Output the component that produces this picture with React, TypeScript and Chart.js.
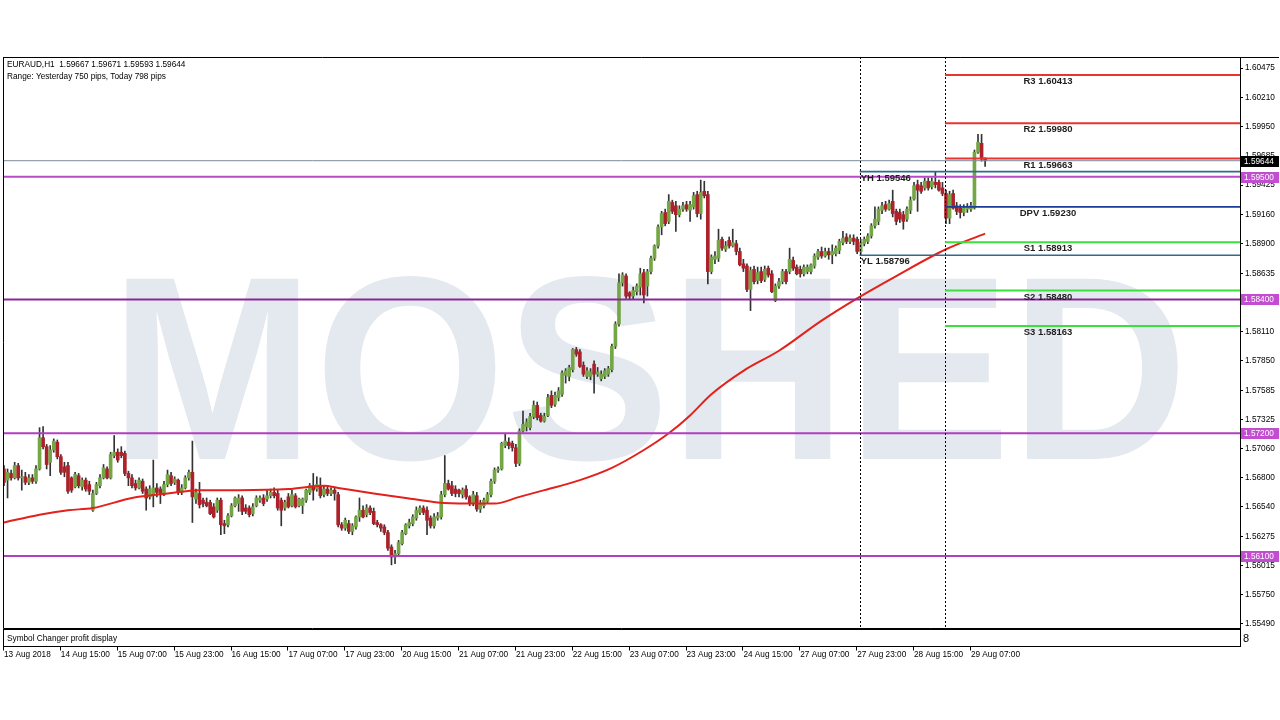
import React, { useEffect, useRef } from "react";
import { Chart, registerables } from "chart.js";
Chart.register(...registerables);

// ---------- data (EURAUD H1, bar 0 = 13 Aug 23:00 ... bar 276 = 29 Aug 11:00) ----------
const OPEN = [
  1.5688,1.5678,1.5684,1.5680,1.5691,1.5680,1.5681,1.5676,1.5680,1.5677,
  1.5688,1.5716,1.5708,1.5694,1.5705,1.5712,1.5699,1.5690,1.5691,1.5680,
  1.5672,1.5682,1.5672,1.5678,1.5674,1.5651,1.5666,1.5673,1.5680,1.5688,
  1.5680,1.5700,1.5703,1.5703,1.5702,1.5684,1.5680,1.5675,1.5671,1.5677,
  1.5670,1.5663,1.5665,1.5671,1.5670,1.5665,1.5674,1.5682,1.5676,1.5678,
  1.5667,1.5671,1.5680,1.5685,1.5661,1.5666,1.5660,1.5658,1.5658,1.5654,
  1.5651,1.5660,1.5639,1.5638,1.5646,1.5655,1.5657,1.5662,1.5653,1.5653,
  1.5648,1.5655,1.5660,1.5662,1.5661,1.5664,1.5667,1.5666,1.5660,1.5653,
  1.5663,1.5655,1.5664,1.5655,1.5655,1.5660,1.5667,1.5673,1.5670,1.5673,
  1.5665,1.5670,1.5666,1.5669,1.5665,1.5638,1.5635,1.5639,1.5632,1.5636,
  1.5645,1.5651,1.5647,1.5653,1.5650,1.5640,1.5638,1.5636,1.5631,1.5618,
  1.5609,1.5612,1.5621,1.5630,1.5637,1.5639,1.5644,1.5649,1.5653,1.5651,
  1.5644,1.5637,1.5644,1.5645,1.5665,1.5675,1.5673,1.5670,1.5669,1.5665,
  1.5670,1.5663,1.5657,1.5664,1.5652,1.5655,1.5659,1.5665,1.5677,1.5687,
  1.5688,1.5709,1.5712,1.5711,1.5707,1.5693,1.5722,1.5726,1.5725,1.5735,
  1.5745,1.5736,1.5731,1.5736,1.5754,1.5746,1.5752,1.5755,1.5772,1.5771,
  1.5777,1.5795,1.5793,1.5781,1.5771,1.5771,1.5782,1.5773,1.5769,1.5771,
  1.5773,1.5777,1.5798,1.5818,1.5855,1.5861,1.5846,1.5843,1.5847,1.5851,
  1.5864,1.5852,1.5865,1.5877,1.5888,1.5905,1.5918,1.5910,1.5927,1.5924,
  1.5916,1.5921,1.5925,1.5920,1.5923,1.5934,1.5917,1.5937,1.5934,1.5865,
  1.5876,1.5877,1.5894,1.5885,1.5893,1.5888,1.5890,1.5883,1.5872,1.5870,
  1.5849,1.5867,1.5857,1.5865,1.5858,1.5868,1.5863,1.5839,1.5852,1.5856,
  1.5865,1.5865,1.5875,1.5869,1.5867,1.5863,1.5865,1.5865,1.5870,1.5878,
  1.5883,1.5879,1.5883,1.5880,1.5881,1.5884,1.5891,1.5896,1.5892,1.5895,
  1.5894,1.5883,1.5890,1.5892,1.5897,1.5906,1.5910,1.5920,1.5925,1.5921,
  1.5928,1.5919,1.5918,1.5916,1.5912,1.5920,1.5930,1.5943,1.5942,1.5940,
  1.5946,1.5941,1.5945,1.5945,1.5940,1.5935,1.5913,1.5935,1.5924,1.5922,
  1.5918,1.5921,1.5921,1.5922,1.5972,1.5980,1.59667,
];
const HIGH = [
  1.5691,1.5688,1.5687,1.5694,1.5693,1.5687,1.5685,1.5683,1.5683,1.5691,
  1.5725,1.5726,1.5710,1.5709,1.5715,1.5714,1.5701,1.5694,1.5694,1.5681,
  1.5685,1.5684,1.5680,1.5680,1.5677,1.5669,1.5676,1.5683,1.5692,1.5690,
  1.5703,1.5718,1.5706,1.5708,1.5704,1.5686,1.5683,1.5678,1.5680,1.5679,
  1.5672,1.5673,1.5696,1.5675,1.5672,1.5677,1.5687,1.5685,1.5681,1.5679,
  1.5674,1.5682,1.5687,1.5713,1.5670,1.5676,1.5662,1.5662,1.5660,1.5657,
  1.5662,1.5662,1.5642,1.5648,1.5657,1.5663,1.5665,1.5664,1.5656,1.5655,
  1.5657,1.5664,1.5664,1.5665,1.5669,1.5670,1.5671,1.5669,1.5662,1.5660,
  1.5666,1.5669,1.5666,1.5662,1.5662,1.5670,1.5675,1.5684,1.5681,1.5680,
  1.5673,1.5672,1.5671,1.5671,1.5667,1.5640,1.5644,1.5642,1.5639,1.5646,
  1.5662,1.5655,1.5656,1.5655,1.5653,1.5642,1.5639,1.5638,1.5633,1.5620,
  1.5615,1.5624,1.5633,1.5639,1.5643,1.5647,1.5654,1.5655,1.5655,1.5654,
  1.5646,1.5648,1.5649,1.5668,1.5700,1.5678,1.5677,1.5673,1.5670,1.5671,
  1.5673,1.5664,1.5668,1.5667,1.5660,1.5662,1.5667,1.5679,1.5689,1.5690,
  1.5712,1.5720,1.5716,1.5713,1.5710,1.5724,1.5740,1.5733,1.5738,1.5749,
  1.5748,1.5738,1.5738,1.5755,1.5758,1.5757,1.5761,1.5776,1.5778,1.5781,
  1.5796,1.5797,1.5795,1.5784,1.5779,1.5778,1.5785,1.5779,1.5776,1.5778,
  1.5780,1.5800,1.5820,1.5863,1.5864,1.5863,1.5847,1.5851,1.5854,1.5868,
  1.5867,1.5867,1.5879,1.5889,1.5907,1.5919,1.5921,1.5934,1.5929,1.5928,
  1.5924,1.5927,1.5928,1.5928,1.5936,1.5937,1.5947,1.5946,1.5937,1.5880,
  1.5883,1.5903,1.5896,1.5892,1.5896,1.5903,1.5893,1.5886,1.5876,1.5872,
  1.5869,1.5870,1.5869,1.5869,1.5870,1.5870,1.5866,1.5854,1.5859,1.5867,
  1.5867,1.5886,1.5878,1.5871,1.5870,1.5871,1.5871,1.5872,1.5881,1.5885,
  1.5887,1.5886,1.5886,1.5889,1.5888,1.5894,1.5901,1.5899,1.5898,1.5898,
  1.5896,1.5894,1.5896,1.5899,1.5908,1.5923,1.5923,1.5927,1.5928,1.5929,
  1.5938,1.5921,1.5921,1.5919,1.5923,1.5932,1.5945,1.5947,1.5945,1.5949,
  1.5949,1.5949,1.59546,1.5947,1.5945,1.5938,1.5937,1.5938,1.5927,1.5925,
  1.5925,1.5926,1.5927,1.5974,1.5988,1.5988,1.59671,
];
const LOW = [
  1.5673,1.5662,1.5678,1.5679,1.5678,1.5669,1.5674,1.5674,1.5675,1.5675,
  1.5687,1.5706,1.5688,1.5682,1.5703,1.5697,1.5683,1.5681,1.5666,1.5667,
  1.5671,1.5671,1.5669,1.5668,1.5665,1.5650,1.5665,1.5671,1.5679,1.5679,
  1.5679,1.5698,1.5694,1.5698,1.5682,1.5673,1.5671,1.5669,1.5670,1.5666,
  1.5651,1.5661,1.5654,1.5663,1.5657,1.5664,1.5672,1.5673,1.5674,1.5665,
  1.5665,1.5670,1.5678,1.5640,1.5657,1.5653,1.5654,1.5654,1.5647,1.5644,
  1.5649,1.5629,1.5630,1.5636,1.5645,1.5654,1.5650,1.5647,1.5648,1.5645,
  1.5646,1.5654,1.5658,1.5655,1.5659,1.5662,1.5662,1.5651,1.5637,1.5651,
  1.5653,1.5654,1.5653,1.5654,1.5648,1.5658,1.5665,1.5660,1.5668,1.5662,
  1.5663,1.5664,1.5664,1.5660,1.5636,1.5633,1.5633,1.5630,1.5629,1.5634,
  1.5641,1.5644,1.5645,1.5647,1.5638,1.5636,1.5632,1.5629,1.5615,1.5602,
  1.5603,1.5611,1.5620,1.5629,1.5635,1.5637,1.5642,1.5647,1.5647,1.5629,
  1.5635,1.5635,1.5642,1.5643,1.5663,1.5669,1.5664,1.5663,1.5663,1.5662,
  1.5661,1.5655,1.5655,1.5650,1.5649,1.5653,1.5657,1.5663,1.5675,1.5685,
  1.5687,1.5707,1.5706,1.5704,1.5690,1.5691,1.5721,1.5722,1.5723,1.5733,
  1.5732,1.5730,1.5730,1.5735,1.5743,1.5744,1.5749,1.5753,1.5765,1.5767,
  1.5775,1.5789,1.5779,1.5771,1.5769,1.5768,1.5756,1.5771,1.5767,1.5769,
  1.5771,1.5775,1.5796,1.5816,1.5852,1.5841,1.5840,1.5840,1.5844,1.5844,
  1.5837,1.5843,1.5863,1.5875,1.5886,1.5898,1.5906,1.5908,1.5917,1.5901,
  1.5914,1.5919,1.5919,1.5910,1.5921,1.5914,1.5912,1.5931,1.5854,1.5863,
  1.5872,1.5874,1.5884,1.5883,1.5886,1.5887,1.5880,1.5870,1.5865,1.5847,
  1.5830,1.5854,1.5854,1.5855,1.5856,1.5860,1.5846,1.5838,1.5850,1.5854,
  1.5854,1.5863,1.5866,1.5862,1.5860,1.5861,1.5863,1.5863,1.5868,1.5876,
  1.5877,1.5878,1.5876,1.5872,1.5879,1.5881,1.5889,1.5890,1.5890,1.5889,
  1.5881,1.58796,1.5888,1.5890,1.5895,1.5904,1.5907,1.5917,1.5919,1.5920,
  1.5914,1.5907,1.5909,1.5903,1.5910,1.5917,1.5929,1.5919,1.5935,1.5938,
  1.5938,1.5939,1.5940,1.5937,1.5933,1.5908,1.5908,1.5921,1.5916,1.5913,
  1.5915,1.5918,1.5919,1.5921,1.5971,1.5964,1.59593,
];
const CLOSE = [
  1.5676,1.5685,1.5680,1.5691,1.5680,1.5681,1.5676,1.5680,1.5677,1.5688,
  1.5716,1.5708,1.5692,1.5705,1.5713,1.5699,1.5685,1.5685,1.5668,1.5669,
  1.5683,1.5673,1.5678,1.5670,1.5668,1.5666,1.5674,1.5680,1.5689,1.5680,
  1.5701,1.5703,1.5696,1.5700,1.5684,1.5680,1.5673,1.5671,1.5678,1.5668,
  1.5662,1.5670,1.5671,1.5667,1.5665,1.5674,1.5683,1.5675,1.5679,1.5667,
  1.5671,1.5680,1.5685,1.5663,1.5667,1.5656,1.5657,1.5655,1.5648,1.5645,
  1.5660,1.5638,1.5637,1.5646,1.5655,1.5662,1.5662,1.5650,1.5650,1.5647,
  1.5654,1.5662,1.5662,1.5657,1.5664,1.5667,1.5664,1.5653,1.5651,1.5658,
  1.5654,1.5665,1.5654,1.5661,1.5661,1.5669,1.5673,1.5669,1.5674,1.5664,
  1.5670,1.5666,1.5669,1.5666,1.5638,1.5635,1.5642,1.5632,1.5637,1.5645,
  1.5651,1.5645,1.5653,1.5649,1.5639,1.5638,1.5635,1.5631,1.5617,1.5609,
  1.5612,1.5622,1.5631,1.5638,1.5640,1.5645,1.5651,1.5653,1.5649,1.5642,
  1.5637,1.5645,1.5646,1.5665,1.5675,1.5670,1.5666,1.5666,1.5666,1.5669,
  1.5663,1.5657,1.5665,1.5652,1.5656,1.5660,1.5665,1.5677,1.5687,1.5688,
  1.5711,1.5713,1.5709,1.5707,1.5693,1.5722,1.5728,1.5730,1.5735,1.5745,
  1.5734,1.5731,1.5735,1.5752,1.5745,1.5754,1.5758,1.5774,1.5776,1.5779,
  1.5795,1.5791,1.5780,1.5773,1.5776,1.5775,1.5773,1.5775,1.5773,1.5776,
  1.5778,1.5798,1.5818,1.5855,1.5862,1.5843,1.5843,1.5848,1.5852,1.5863,
  1.5844,1.5865,1.5877,1.5888,1.5905,1.5917,1.5908,1.5928,1.5919,1.5916,
  1.5921,1.5924,1.5921,1.5925,1.5933,1.5917,1.5936,1.5933,1.5865,1.5878,
  1.5879,1.5893,1.5886,1.5888,1.5888,1.5891,1.5883,1.5871,1.5868,1.5849,
  1.5866,1.5856,1.5864,1.5857,1.5867,1.5862,1.5847,1.5852,1.5856,1.5865,
  1.5856,1.5876,1.5868,1.5863,1.5863,1.5869,1.5869,1.5871,1.5879,1.5883,
  1.5879,1.5883,1.5880,1.5883,1.5886,1.5892,1.5895,1.5892,1.5895,1.5892,
  1.5883,1.5891,1.5894,1.5897,1.5906,1.5912,1.5921,1.5924,1.5921,1.5926,
  1.5917,1.5910,1.5912,1.5910,1.5921,1.5929,1.5942,1.5938,1.5937,1.5946,
  1.5940,1.5946,1.5943,1.5938,1.5935,1.5913,1.5934,1.5922,1.5919,1.5918,
  1.5922,1.5923,1.5924,1.5972,1.5981,1.5966,1.59644,
];

// moving average (red line), read at selected bars
const MA_INDEX = [0,10,18,25,36,46,55,66,80,90,94,104,113,122,130,138,145,152,162,171,180,187,193,199,208,218,230,240,251,265,276];
const MA_VALUE = [1.5640,1.5647,1.5651,1.5653,1.5662,1.5666,1.5669,1.5669,1.5670,1.5673,1.5671,1.5666,1.5662,1.5658,1.5657,1.5657,1.5663,1.5669,1.5678,1.5689,1.5705,1.5720,1.5736,1.5755,1.5776,1.5794,1.5821,1.5841,1.5861,1.5885,1.5899];

const TIME_TICK_INDEX = [0,16,32,48,64,80,96,112,128,144,160,176,192,208,224,240,256,272];
const TIME_LABELS = ["13 Aug 2018","14 Aug 15:00","15 Aug 07:00","15 Aug 23:00","16 Aug 15:00","17 Aug 07:00","17 Aug 23:00","20 Aug 15:00","21 Aug 07:00","21 Aug 23:00","22 Aug 15:00","23 Aug 07:00","23 Aug 23:00","24 Aug 15:00","27 Aug 07:00","27 Aug 23:00","28 Aug 15:00","29 Aug 07:00"];
const PRICE_TICKS = [1.60475,1.6021,1.5995,1.59685,1.59425,1.5916,1.589,1.58635,1.58375,1.5811,1.5785,1.57585,1.57325,1.5706,1.568,1.5654,1.56275,1.56015,1.5575,1.5549];

const SR_LEVELS = [1.595, 1.584, 1.572, 1.561];
const PIVOT_NAMES = ["R3","R2","R1","DPV","S1","S2","S3"];
const PIVOT_VALUES = [1.60413,1.5998,1.59663,1.5923,1.58913,1.5848,1.58163];
const YESTERDAY_NAMES = ["YH","YL"];
const YESTERDAY_VALUES = [1.59546,1.58796];
const LAST_PRICE = 1.59644;
const DAY_START_INDEX = [241, 265];
const HEADER_LINES = ["EURAUD,H1  1.59667 1.59671 1.59593 1.59644", "Range: Yesterday 750 pips, Today 798 pips"];
const SUBWINDOW_TITLE = "Symbol Changer profit display";
const WATERMARK = "MOSHED";

// ---------- styling ----------
const FONT = '"Liberation Sans", Arial, sans-serif';
const BULL = "#74a646";
const BEAR = "#ad222a";
const WICK = "#333333";
const SR_COLORS = ["#b94bc9", "#8a2899", "#b03fc1", "#b03fc1"];
const PIVOT_COLORS = ["#e8342e","#e8342e","#e8342e","#1d3b98","#3ce03c","#3ce03c","#3ce03c"];
const BOX_MAGENTA = "#c24dd0";

const overlay = {
  id: "mt4overlay",
  beforeDatasetsDraw(chart: any) {
    const { ctx, chartArea: a } = chart;
    ctx.save();
    ctx.beginPath();
    ctx.rect(a.left, a.top, a.right - a.left, a.bottom - a.top);
    ctx.clip();
    ctx.fillStyle = "#e4e8ef";
    ctx.font = `700 262px ${FONT}`;
    ctx.textAlign = "left";
    ctx.textBaseline = "alphabetic";
    ctx.fillText(WATERMARK, 110, 459, 1078);
    ctx.restore();
  },
  afterDatasetsDraw(chart: any) {
    const { ctx, chartArea: a, scales } = chart;
    const xs = scales.x, ys = scales.y;
    ctx.save();
    ctx.beginPath();
    ctx.rect(a.left, a.top, a.right - a.left, a.bottom - a.top);
    ctx.clip();
    const hline = (v: number, x0: number, color: string, w: number) => {
      const y = ys.getPixelForValue(v);
      ctx.strokeStyle = color;
      ctx.lineWidth = w;
      ctx.beginPath();
      ctx.moveTo(x0, y);
      ctx.lineTo(a.right, y);
      ctx.stroke();
    };
    // last price line
    hline(LAST_PRICE, a.left, "#7d8b9a", 1);
    // support / resistance lines
    SR_LEVELS.forEach((v, i) => hline(v, a.left, SR_COLORS[i], 2));
    // day separators
    ctx.strokeStyle = "#000";
    ctx.lineWidth = 1;
    ctx.setLineDash([2, 2]);
    DAY_START_INDEX.forEach((d) => {
      const x = Math.round(xs.getPixelForValue(d) - 1) + 0.5;
      ctx.beginPath();
      ctx.moveTo(x, a.top);
      ctx.lineTo(x, a.bottom);
      ctx.stroke();
    });
    ctx.setLineDash([]);
    // yesterday high / low
    const xY = xs.getPixelForValue(DAY_START_INDEX[0]) - 1;
    YESTERDAY_VALUES.forEach((v) => hline(v, xY, "#2e6b8c", 1.6));
    // pivots
    const xP = xs.getPixelForValue(DAY_START_INDEX[1]) - 1;
    PIVOT_VALUES.forEach((v, i) => hline(v, xP, PIVOT_COLORS[i], i === 3 ? 1.6 : 2));
    // labels
    ctx.fillStyle = "#1e1e1e";
    ctx.font = `700 9.5px ${FONT}`;
    ctx.textBaseline = "middle";
    ctx.textAlign = "center";
    PIVOT_VALUES.forEach((v, i) => {
      ctx.fillText(`${PIVOT_NAMES[i]} ${v.toFixed(5)}`, 1048, ys.getPixelForValue(v) + 6.5);
    });
    ctx.textAlign = "left";
    YESTERDAY_VALUES.forEach((v, i) => {
      ctx.fillText(`${YESTERDAY_NAMES[i]} ${v.toFixed(5)}`, xY + 1, ys.getPixelForValue(v) + 6.5);
    });
    ctx.restore();
  },
  afterDraw(chart: any) {
    const { ctx, chartArea: a, scales } = chart;
    const xs = scales.x, ys = scales.y;
    ctx.save();
    ctx.strokeStyle = "#000";
    ctx.lineWidth = 1;
    // frames
    ctx.beginPath();
    ctx.moveTo(a.left + 0.5, a.top + 0.5);
    ctx.lineTo(1279, a.top + 0.5);
    ctx.moveTo(a.left + 0.5, a.top);
    ctx.lineTo(a.left + 0.5, a.bottom + 0.5);
    ctx.lineTo(a.right, a.bottom + 0.5);
    ctx.stroke();
    const subTop = a.bottom + 1.5, subBot = a.bottom + 18.5;
    ctx.strokeRect(a.left + 0.5, subTop, a.right - a.left, subBot - subTop);
    // x tick marks
    ctx.beginPath();
    TIME_TICK_INDEX.forEach((t) => {
      const x = Math.round(xs.getPixelForValue(t) - 1) + 0.5;
      ctx.moveTo(x, subBot);
      ctx.lineTo(x, subBot + 4);
    });
    ctx.stroke();
    // texts
    ctx.fillStyle = "#000";
    ctx.font = `8.25px ${FONT}`;
    ctx.textAlign = "left";
    ctx.textBaseline = "middle";
    ctx.fillText(HEADER_LINES[0], 7, 64.5);
    ctx.fillText(HEADER_LINES[1], 7, 76.5);
    ctx.fillText(SUBWINDOW_TITLE, 7, (subTop + subBot) / 2 + 0.5);
    ctx.font = `11px ${FONT}`;
    ctx.fillText("8", a.right + 3, (subTop + subBot) / 2 + 0.5);
    // price boxes on axis
    const boxes = [LAST_PRICE, ...SR_LEVELS];
    ctx.font = `8.25px ${FONT}`;
    boxes.forEach((v, i) => {
      const y = ys.getPixelForValue(v);
      ctx.fillStyle = i === 0 ? "#000" : BOX_MAGENTA;
      ctx.fillRect(a.right + 1, Math.round(y) - 5, 38, 11);
      ctx.fillStyle = "#fff";
      ctx.fillText(v.toFixed(5), a.right + 4, Math.round(y) + 0.5);
    });
    ctx.restore();
  },
};

export default function App() {
  const ref = useRef<HTMLCanvasElement | null>(null);
  useEffect(() => {
    if (!ref.current) return;
    const bodies = OPEN.map((o, i) => ({ x: i, y: [o, CLOSE[i]] }));
    const wicks = LOW.map((l, i) => ({ x: i, y: [l, HIGH[i]] }));
    const bodyColors = OPEN.map((o, i) => (CLOSE[i] >= o ? BULL : BEAR));
    const ma = MA_INDEX.map((x, i) => ({ x, y: MA_VALUE[i] }));
    const chart = new Chart(ref.current, {
      type: "bar",
      data: {
        datasets: [
          {
            type: "line",
            data: ma,
            borderColor: "#e3211b",
            borderWidth: 2,
            pointRadius: 0,
            cubicInterpolationMode: "monotone",
            order: 0,
          } as any,
          {
            data: bodies,
            backgroundColor: bodyColors,
            barThickness: 3,
            minBarLength: 1,
            grouped: false,
            order: 1,
          } as any,
          {
            data: wicks,
            backgroundColor: WICK,
            barThickness: 1,
            grouped: false,
            order: 2,
          } as any,
        ],
      },
      options: {
        responsive: false,
        animation: false,
        devicePixelRatio: 1,
        layout: { padding: { left: 3, top: 57, right: 0, bottom: 0 }, autoPadding: false },
        plugins: { legend: { display: false }, tooltip: { enabled: false } },
        scales: {
          x: {
            type: "linear",
            min: -0.28,
            max: 347.7,
            offset: false,
            grid: { display: false, drawTicks: true, tickLength: 22 },
            border: { display: false },
            afterBuildTicks: (s: any) => {
              s.ticks = TIME_TICK_INDEX.map((v) => ({ value: v }));
            },
            afterFit: (s: any) => {
              s.height = 92;
              s.paddingLeft = 0;
              s.paddingRight = 0;
            },
            ticks: {
              autoSkip: false,
              maxRotation: 0,
              minRotation: 0,
              align: "start",
              padding: 0,
              color: "#000",
              font: { family: FONT, size: 8.25 },
              callback: (v: any) => TIME_LABELS[TIME_TICK_INDEX.indexOf(v)] ?? "",
            },
          },
          y: {
            type: "linear",
            position: "right",
            min: 1.55454,
            max: 1.60574,
            grid: { display: true, drawOnChartArea: false, drawTicks: true, tickLength: 3, color: "#000" },
            border: { display: true, color: "#000" },
            afterBuildTicks: (s: any) => {
              s.ticks = PRICE_TICKS.map((v) => ({ value: v }));
            },
            afterFit: (s: any) => {
              s.width = 40;
            },
            ticks: {
              autoSkip: false,
              padding: 2,
              color: "#000",
              font: { family: FONT, size: 8.25 },
              callback: (v: any) => Number(v).toFixed(5),
            },
          },
        },
      } as any,
      plugins: [overlay],
    });
    return () => chart.destroy();
  }, []);
  return (
    <div style={{ position: "absolute", left: 0, top: 0, width: 1280, height: 720, background: "#fff" }}>
      <canvas ref={ref} width={1280} height={720} style={{ display: "block" }} />
    </div>
  );
}
